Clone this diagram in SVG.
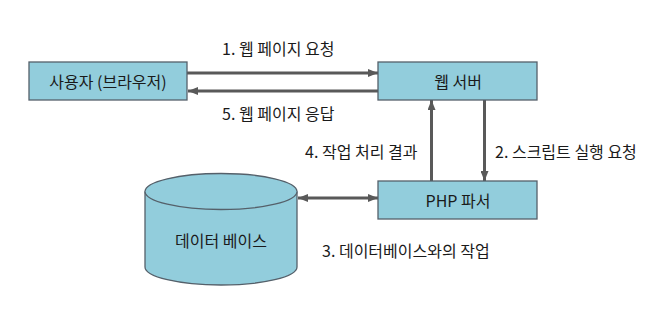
<svg xmlns="http://www.w3.org/2000/svg" width="667" height="330" viewBox="0 0 667 330">
<defs>
<style>
.box{fill:#92CDDC;stroke:#55606a;stroke-width:1.3}
.t{font-family:"Noto Sans CJK KR","Noto Sans",sans-serif;font-size:16px;fill:#1a1a1a}
.c{text-anchor:middle;dominant-baseline:central}
.ln{stroke:#595959;stroke-width:3;fill:none}
</style>
<marker id="ah" viewBox="0 0 10 8" refX="10" refY="4" markerWidth="10" markerHeight="8" markerUnits="userSpaceOnUse" orient="auto-start-reverse">
<path d="M0,0 L10,4 L0,8 z" fill="#595959"/>
</marker>
</defs>
<rect width="667" height="330" fill="#fff"/>
<g id="connectors">
<line class="ln" x1="187" y1="73" x2="378" y2="73" marker-end="url(#ah)"/>
<line class="ln" x1="378" y1="91" x2="188" y2="91" marker-end="url(#ah)"/>
<line class="ln" x1="431.5" y1="181" x2="431.5" y2="100" marker-end="url(#ah)"/>
<line class="ln" x1="484.5" y1="100" x2="484.5" y2="181" marker-end="url(#ah)"/>
<line class="ln" x1="298" y1="198" x2="378" y2="198" marker-start="url(#ah)" marker-end="url(#ah)"/>
<text class="t" x="222" y="55">1. 웹 페이지 요청</text>
<text class="t" x="222" y="120">5. 웹 페이지 응답</text>
<text class="t" x="305" y="158">4. 작업 처리 결과</text>
<text class="t" x="495" y="158">2. 스크립트 실행 요청</text>
<text class="t" x="322" y="257">3. 데이터베이스와의 작업</text>
</g>
<g id="user">
<rect class="box" x="29" y="62" width="158" height="38"/>
<text class="t c" x="108" y="81">사용자 (브라우저)</text>
</g>
<g id="webserver">
<rect class="box" x="378" y="62" width="159" height="38"/>
<text class="t c" x="458" y="81">웹 서버</text>
</g>
<g id="php">
<rect class="box" x="378" y="181" width="159" height="38"/>
<text class="t c" x="458" y="200">PHP 파서</text>
</g>
<g id="database">
<path class="box" d="M145,191.5 L145,267 A76,18 0 0 0 297,267 L297,191.5 A76,18 0 0 0 145,191.5 Z"/>
<path class="box" d="M145,191.5 A76,18 0 0 0 297,191.5" fill="none"/>
<text class="t c" x="221" y="240">데이터 베이스</text>
</g>
</svg>
